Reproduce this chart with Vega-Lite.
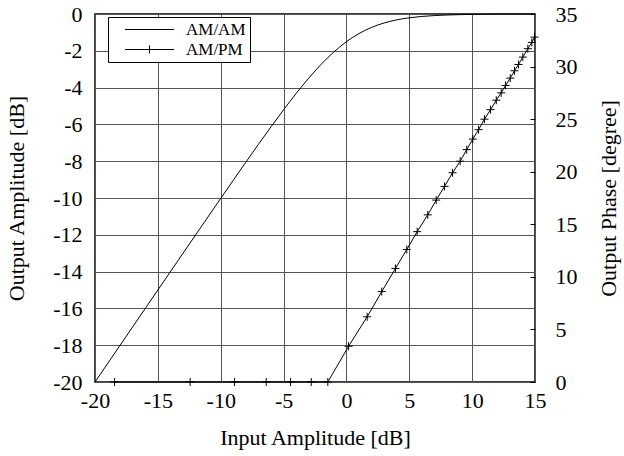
{
  "$schema": "https://vega.github.io/schema/vega-lite/v6.json",
  "autosize": {"type": "none"},
  "width": 440,
  "height": 368,
  "padding": {"left": 95, "top": 14, "right": 89, "bottom": 74},
  "background": "white",
  "config": {
    "font": "Liberation Serif",
    "view": {"stroke": "black", "strokeWidth": 1.5},
    "axis": {
      "labelFont": "Liberation Serif",
      "labelFontSize": 22,
      "labelColor": "black",
      "titleFont": "Liberation Serif",
      "titleFontSize": 22,
      "titleFontWeight": "normal",
      "titleColor": "black",
      "domain": false,
      "gridColor": "#555555",
      "gridWidth": 1,
      "gridOpacity": 1,
      "labelFlush": false,
      "labelOverlap": false
    }
  },
  "datasets": {
    "amam": [
      {"series": "AM/AM", "x": -20, "y": -20.0},
      {"series": "AM/AM", "x": -15, "y": -15.002},
      {"series": "AM/AM", "x": -10, "y": -10.022},
      {"series": "AM/AM", "x": -8, "y": -8.054},
      {"series": "AM/AM", "x": -6, "y": -6.133},
      {"series": "AM/AM", "x": -5, "y": -5.207},
      {"series": "AM/AM", "x": -4, "y": -4.319},
      {"series": "AM/AM", "x": -3, "y": -3.487},
      {"series": "AM/AM", "x": -2.5, "y": -3.097},
      {"series": "AM/AM", "x": -2, "y": -2.728},
      {"series": "AM/AM", "x": -1.5, "y": -2.382},
      {"series": "AM/AM", "x": -1, "y": -2.062},
      {"series": "AM/AM", "x": -0.5, "y": -1.769},
      {"series": "AM/AM", "x": 0, "y": -1.505},
      {"series": "AM/AM", "x": 0.5, "y": -1.269},
      {"series": "AM/AM", "x": 1, "y": -1.063},
      {"series": "AM/AM", "x": 1.5, "y": -0.882},
      {"series": "AM/AM", "x": 2, "y": -0.728},
      {"series": "AM/AM", "x": 2.5, "y": -0.597},
      {"series": "AM/AM", "x": 3, "y": -0.487},
      {"series": "AM/AM", "x": 3.5, "y": -0.395},
      {"series": "AM/AM", "x": 4, "y": -0.319},
      {"series": "AM/AM", "x": 4.5, "y": -0.257},
      {"series": "AM/AM", "x": 5, "y": -0.207},
      {"series": "AM/AM", "x": 6, "y": -0.133},
      {"series": "AM/AM", "x": 7, "y": -0.085},
      {"series": "AM/AM", "x": 8, "y": -0.054},
      {"series": "AM/AM", "x": 9, "y": -0.035},
      {"series": "AM/AM", "x": 10, "y": -0.022},
      {"series": "AM/AM", "x": 11, "y": -0.014},
      {"series": "AM/AM", "x": 12, "y": -0.009},
      {"series": "AM/AM", "x": 13, "y": -0.005},
      {"series": "AM/AM", "x": 14, "y": -0.003},
      {"series": "AM/AM", "x": 15, "y": -0.002}
    ],
    "ampm": [
      {"series": "AM/PM", "x": -18.45, "phase": 0},
      {"series": "AM/PM", "x": -12.43, "phase": 0},
      {"series": "AM/PM", "x": -8.9, "phase": 0},
      {"series": "AM/PM", "x": -6.38, "phase": 0},
      {"series": "AM/PM", "x": -4.45, "phase": 0},
      {"series": "AM/PM", "x": -2.8, "phase": 0},
      {"series": "AM/PM", "x": -1.48, "phase": 0},
      {"series": "AM/PM", "x": 0.17, "phase": 3.4},
      {"series": "AM/PM", "x": 1.65, "phase": 6.2},
      {"series": "AM/PM", "x": 2.81, "phase": 8.6},
      {"series": "AM/PM", "x": 3.9, "phase": 10.8},
      {"series": "AM/PM", "x": 4.8, "phase": 12.6},
      {"series": "AM/PM", "x": 5.63, "phase": 14.3},
      {"series": "AM/PM", "x": 6.47, "phase": 15.9},
      {"series": "AM/PM", "x": 7.14, "phase": 17.3},
      {"series": "AM/PM", "x": 7.8, "phase": 18.6},
      {"series": "AM/PM", "x": 8.44, "phase": 19.9},
      {"series": "AM/PM", "x": 9.05, "phase": 21.0},
      {"series": "AM/PM", "x": 9.57, "phase": 22.1},
      {"series": "AM/PM", "x": 10.05, "phase": 23.1},
      {"series": "AM/PM", "x": 10.51, "phase": 24.0},
      {"series": "AM/PM", "x": 10.98, "phase": 25.0},
      {"series": "AM/PM", "x": 11.46, "phase": 25.9},
      {"series": "AM/PM", "x": 11.92, "phase": 26.8},
      {"series": "AM/PM", "x": 12.31, "phase": 27.5},
      {"series": "AM/PM", "x": 12.66, "phase": 28.2},
      {"series": "AM/PM", "x": 13.03, "phase": 28.9},
      {"series": "AM/PM", "x": 13.37, "phase": 29.6},
      {"series": "AM/PM", "x": 13.69, "phase": 30.2},
      {"series": "AM/PM", "x": 14.03, "phase": 30.9},
      {"series": "AM/PM", "x": 14.43, "phase": 31.7},
      {"series": "AM/PM", "x": 14.75, "phase": 32.3},
      {"series": "AM/PM", "x": 14.96, "phase": 32.8}
    ]
  },
  "layer": [
    {
      "data": {"name": "amam"},
      "mark": {"type": "line", "strokeWidth": 1, "interpolate": "monotone"},
      "encoding": {
        "x": {
          "field": "x", "type": "quantitative",
          "scale": {"domain": [-20, 15], "nice": false, "zero": false},
          "axis": {"title": "Input Amplitude [dB]", "values": [-20, -15, -10, -5, 0, 5, 10, 15], "labelExpr": "'' + datum.value", "grid": true, "ticks": false, "labelPadding": 8, "titlePadding": 16, "labelFlush": false, "labelFont": "Liberation Serif", "labelFontSize": 22, "titleFont": "Liberation Serif", "titleFontSize": 22}
        },
        "y": {
          "field": "y", "type": "quantitative",
          "scale": {"domain": [-20, 0], "nice": false, "zero": false},
          "axis": {"title": "Output Amplitude [dB]", "values": [-20, -18, -16, -14, -12, -10, -8, -6, -4, -2, 0], "labelExpr": "'' + datum.value", "grid": true, "ticks": false, "labelPadding": 13, "titlePadding": 24, "labelFlush": false, "labelFont": "Liberation Serif", "labelFontSize": 22, "titleFont": "Liberation Serif", "titleFontSize": 22}
        },
        "color": {
          "field": "series", "type": "nominal",
          "scale": {"domain": ["AM/AM", "AM/PM"], "range": ["black", "black"]},
          "legend": {
            "title": null,
            "orient": "none",
            "legendX": 13,
            "legendY": 3,
            "strokeColor": "black",
            "fillColor": "white",
            "padding": 4,
            "labelFont": "Liberation Serif",
            "labelFontSize": 17,
            "labelColor": "black",
            "labelOffset": 28,
            "symbolOffset": 29,
            "symbolSize": 100,
            "symbolStrokeWidth": 1,
            "symbolStrokeColor": "black",
            "rowPadding": 2,
            "encode": {
              "symbols": {
                "update": {
                  "shape": {"signal": "datum.value === 'AM/PM' ? 'M-4.9,0H4.9M0,-0.8V0.8M-0.8,0H0.8' : 'M-4.9,0H4.9'"},
                  "stroke": {"value": "black"},
                  "strokeWidth": {"value": 1}
                }
              }
            }
          }
        }
      }
    },
    {
      "data": {"name": "ampm"},
      "encoding": {
        "x": {"field": "x", "type": "quantitative"},
        "y": {
          "field": "phase", "type": "quantitative",
          "scale": {"domain": [0, 35], "nice": false},
          "axis": {"orient": "right", "title": "Output Phase [degree]", "values": [0, 5, 10, 15, 20, 25, 30, 35], "grid": false, "ticks": true, "tickSize": -5, "tickColor": "black", "tickWidth": 1, "labelPadding": 25, "titleAngle": -90, "titlePadding": 43, "labelFlush": false, "labelFont": "Liberation Serif", "labelFontSize": 22, "titleFont": "Liberation Serif", "titleFontSize": 22}
        }
      },
      "layer": [
        {
          "mark": {"type": "line", "strokeWidth": 1, "color": "black"},
          "encoding": {"color": {"field": "series", "type": "nominal"}}
        },
        {
          "mark": {"type": "point", "shape": "M-1,0H1M0,-1V1", "size": 64, "filled": false, "stroke": "black", "strokeWidth": 1, "opacity": 1}
        }
      ]
    }
  ],
  "resolve": {"scale": {"y": "independent"}}
}
